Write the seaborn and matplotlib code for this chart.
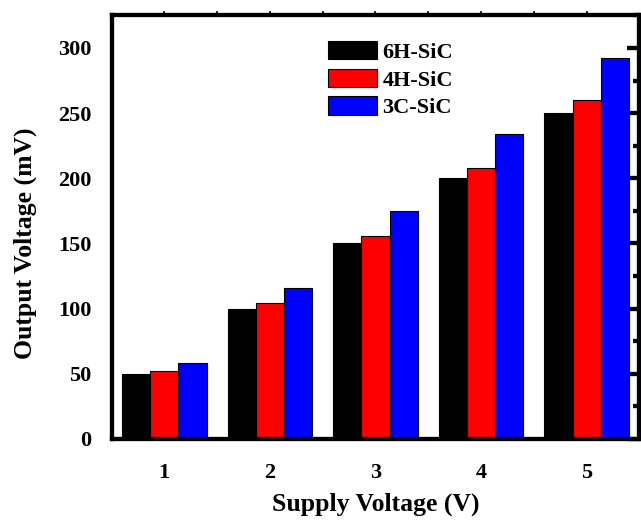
import matplotlib
matplotlib.use("Agg")
import matplotlib.pyplot as plt
import seaborn as sns
import pandas as pd
import numpy as np
from matplotlib.patches import Patch
from matplotlib.ticker import MultipleLocator

supply = [1, 2, 3, 4, 5]
v_6h = [50, 100, 150, 200, 250]
v_4h = [52, 104, 156, 208, 260]
v_3c = [58, 116, 175, 234, 292]
series = ["6H-SiC", "4H-SiC", "3C-SiC"]
colors = ["#000000", "#ff0000", "#0000ff"]

df = pd.DataFrame({
    "Supply": supply * 3,
    "Output": v_6h + v_4h + v_3c,
    "Type": [series[0]] * 5 + [series[1]] * 5 + [series[2]] * 5,
})

sns.set_theme(style="white")
plt.rcParams["font.family"] = ["Liberation Serif", "DejaVu Serif"]
plt.rcParams["font.weight"] = "bold"
plt.rcParams["text.color"] = "black"
plt.rcParams["axes.labelcolor"] = "black"

fig = plt.figure(figsize=(6.41, 5.20), dpi=100)
L, B, R, T = 0.1755, 0.1558, 0.9961, 0.9705
ax = fig.add_axes([L, B, R - L, T - B])

sns.barplot(data=df, x="Supply", y="Output", hue="Type", hue_order=series,
            palette=colors, native_scale=True, width=0.8, dodge=True,
            edgecolor="black", linewidth=0.8, saturation=1, ax=ax, legend=False)

ax.set_xlim(0.51, 5.49)
ax.set_ylim(0, 325)
ax.set_xticks(supply)
ax.set_xticklabels([str(s) for s in supply])
ax.xaxis.set_minor_locator(MultipleLocator(0.5))
ax.yaxis.set_major_locator(MultipleLocator(50))
ax.yaxis.set_minor_locator(MultipleLocator(25))

LW = 3.1
for sp in ax.spines.values():
    sp.set_linewidth(LW)
    sp.set_color("black")
    sp.set_visible(True)

ax.tick_params(axis="both", which="major", direction="out", length=9, width=LW,
               labelsize=16, color="black", labelcolor="black",
               right=False, top=False)
ax.tick_params(axis="x", which="major", pad=8.5)
ax.tick_params(axis="y", which="major", pad=6)
ax.tick_params(axis="both", which="minor", direction="out", length=4.5, width=LW,
               color="black", right=False, top=False)

# right-side ticks pointing inward
ay2 = ax.secondary_yaxis("right")
ay2.yaxis.set_major_locator(MultipleLocator(50))
ay2.yaxis.set_minor_locator(MultipleLocator(25))
ay2.tick_params(which="major", direction="in", length=8.5, width=LW, labelright=False, color="black")
ay2.tick_params(which="minor", direction="in", length=4.5, width=LW, color="black")
ay2.spines["right"].set_visible(False)

# top-side tiny ticks
ax2 = ax.secondary_xaxis("top")
ax2.xaxis.set_major_locator(MultipleLocator(0.5))
ax2.tick_params(which="major", direction="out", length=3, width=1.2, labeltop=False, color="black")
ax2.spines["top"].set_visible(False)

for lab in ax.get_xticklabels() + ax.get_yticklabels():
    lab.set_fontweight("bold")

ax.set_xlabel("Supply Voltage (V)", fontsize=18.5, fontweight="bold", labelpad=7, color="black")
ax.set_ylabel("Output Voltage (mV)", fontsize=18.5, fontweight="bold", labelpad=15.5, color="black")
ax.yaxis.label.set_y(0.4626)

handles = [Patch(facecolor=c, edgecolor="black", linewidth=0.8) for c in colors]
leg = ax.legend(handles, series, loc="upper left", bbox_to_anchor=(0.409, 0.94),
                frameon=False, handlelength=2.2, handleheight=0.92,
                handletextpad=0.27, labelspacing=0.26, borderpad=0, borderaxespad=0,
                prop={"weight": "bold", "size": 16})
for t in leg.get_texts():
    t.set_color("black")

fig.savefig("out.png", dpi=100)
